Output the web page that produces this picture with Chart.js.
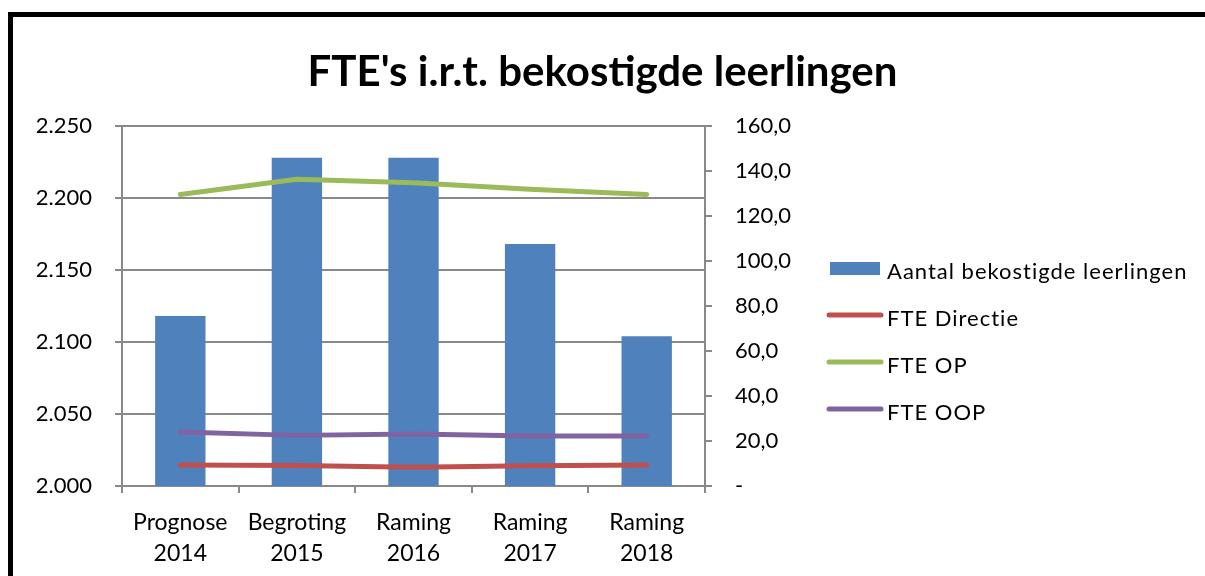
<!DOCTYPE html>
<html>
<head>
<meta charset="utf-8">
<script src="https://cdn.jsdelivr.net/npm/chart.js@4.4.1/dist/chart.umd.min.js"></script>
<style>
html,body{margin:0;padding:0;background:#fff;overflow:hidden;width:1205px;height:576px;}
#frame{position:absolute;left:8px;top:12px;width:1400px;height:800px;border:5px solid #000;}
#wrap{position:absolute;left:0;top:0;width:1205px;height:576px;}
</style>
</head>
<body>
<div id="frame"></div>
<div id="wrap"><canvas id="myChart" width="1205" height="576"></canvas></div>
<script>
const categories = [['Prognose','2014'],['Begroting','2015'],['Raming','2016'],['Raming','2017'],['Raming','2018']];
const leerlingen = [2118, 2228, 2228, 2168, 2104];
const fteDirectie = [9.3, 9.1, 8.3, 9.0, 9.3];
const fteOP = [129.6, 136.3, 134.8, 131.9, 129.6];
const fteOOP = [24.0, 22.5, 23.1, 22.2, 22.2];
const leftTickLabels = ['2.000','2.050','2.100','2.150','2.200','2.250'];
const rightTickLabels = ['-','20,0','40,0','60,0','80,0','100,0','120,0','140,0','160,0'];

const FONT = 'Lato';
const gridGrey = '#898989';

const ctx = document.getElementById('myChart');

// legend on the right, drawn by hand so it sits where Excel put it
const sideLegend = {
  id: 'sideLegend',
  afterDraw: (chart) => {
    const {ctx} = chart;
    const x0 = 827, top = 269, step = 47;
    ctx.save();
    ctx.font = '22px ' + FONT;
    ctx.letterSpacing = '1px';
    ctx.textBaseline = 'middle';
    chart.data.datasets.forEach((ds, i) => {
      const y = top + i * step;
      if (ds.type === 'bar') {
        ctx.fillStyle = ds.backgroundColor;
        ctx.fillRect(x0 + 3, y - 7, 50, 13);
      } else {
        ctx.strokeStyle = ds.borderColor;
        ctx.lineWidth = 5;
        ctx.lineCap = 'round';
        ctx.beginPath();
        ctx.moveTo(x0 + 2, y - 1);
        ctx.lineTo(x0 + 54, y - 1);
        ctx.stroke();
      }
      ctx.fillStyle = '#000';
      ctx.fillText(ds.label, x0 + 60, y + 3);
    });
    ctx.restore();
  }
};

new Chart(ctx, {
  data: {
    labels: categories,
    datasets: [
      {
        type: 'bar',
        label: 'Aantal bekostigde leerlingen',
        data: leerlingen,
        backgroundColor: '#4F81BD',
        yAxisID: 'y',
        order: 1,
        barPercentage: 0.6,
        categoryPercentage: 0.72,
      },
      {
        type: 'line',
        label: 'FTE Directie',
        data: fteDirectie,
        borderColor: '#C0504D',
        yAxisID: 'y1',
        order: 0,
      },
      {
        type: 'line',
        label: 'FTE OP',
        data: fteOP,
        borderColor: '#9BBB59',
        yAxisID: 'y1',
        order: 0,
      },
      {
        type: 'line',
        label: 'FTE OOP',
        data: fteOOP,
        borderColor: '#8064A2',
        yAxisID: 'y1',
        order: 0,
      },
    ],
  },
  options: {
    responsive: false,
    animation: false,
    devicePixelRatio: 1,
    layout: {padding: 0},
    elements: {
      line: {borderWidth: 5, borderCapStyle: 'round', borderJoinStyle: 'round', tension: 0, fill: false},
      point: {radius: 0, hoverRadius: 0},
    },
    plugins: {
      legend: {display: false},
      tooltip: {enabled: false},
      title: {
        display: true,
        text: "FTE's i.r.t. bekostigde leerlingen",
        color: '#000',
        font: {family: FONT, size: 42, weight: 'bold', lineHeight: 1.2},
        padding: {top: 47, bottom: 28.6},
      },
    },
    scales: {
      x: {
        grid: {offset: true, drawOnChartArea: false, color: gridGrey, lineWidth: 2, tickLength: 7},
        border: {color: gridGrey, width: 2},
        ticks: {color: '#000', font: {family: FONT, size: 23, lineHeight: 1.35}, padding: 14, maxRotation: 0, autoSkip: false},
        afterFit: (s) => { s.height = 90; },
      },
      y: {
        position: 'left',
        min: 2000,
        max: 2250,
        grid: {color: gridGrey, lineWidth: 2, tickLength: 7},
        border: {color: gridGrey, width: 2},
        ticks: {
          stepSize: 50,
          color: '#000',
          font: {family: FONT, size: 22},
          padding: 23,
          callback: (v, i) => leftTickLabels[i],
        },
        afterFit: (s) => { s.width = 122; },
      },
      y1: {
        position: 'right',
        min: 0,
        max: 160,
        grid: {drawOnChartArea: false, color: gridGrey, lineWidth: 2, tickLength: 7},
        border: {color: gridGrey, width: 2},
        ticks: {
          stepSize: 20,
          color: '#000',
          font: {family: FONT, size: 22},
          padding: 23,
          callback: (v, i) => rightTickLabels[i],
        },
        afterFit: (s) => { s.width = 500; },
      },
    },
  },
  plugins: [sideLegend],
});
</script>
</body>
</html>
